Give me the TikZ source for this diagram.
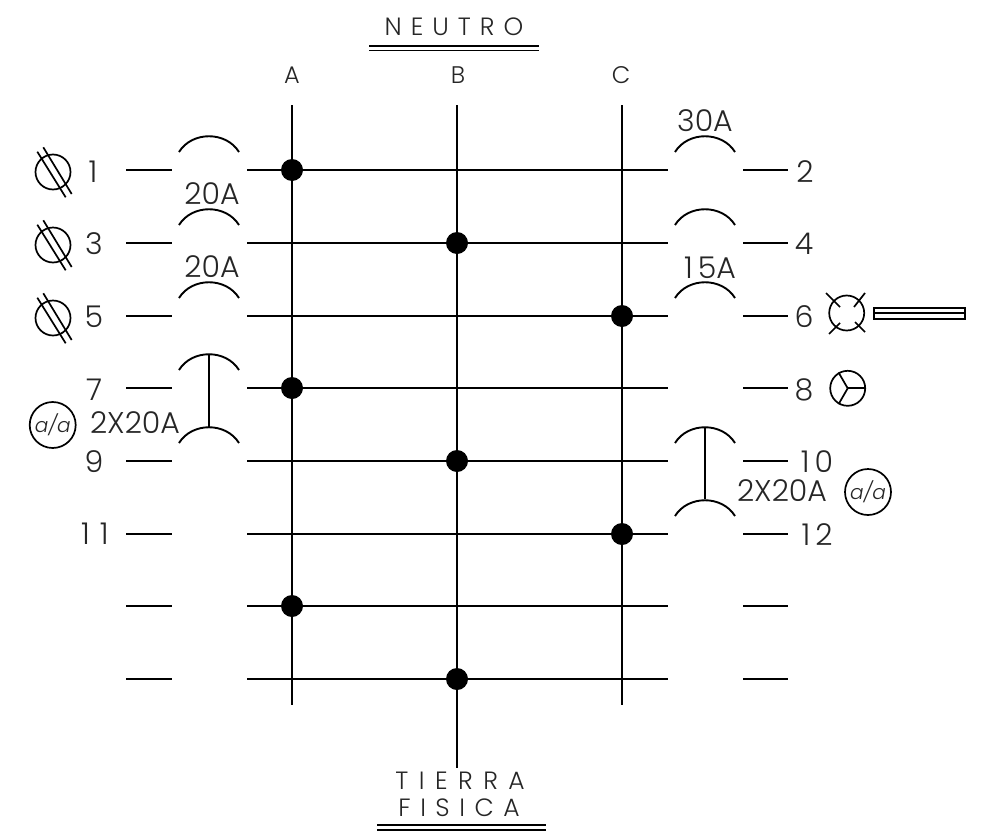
\documentclass[tikz,border=0pt]{standalone}
\usepackage{fontspec}
\setmainfont{Poppins}[UprightFont=* Light,ItalicFont=* Light Italic]
\newfontfamily\spaced{Poppins}[UprightFont=* Light,LetterSpace=36]
\newcommand{\gapA}{\kern9pt\relax}
\newcommand{\gapB}{\kern10.5pt\relax}
\newcommand{\gapC}{\kern9.5pt\relax}
\tikzset{
  wire/.style={line width=2.3pt,line cap=butt,black},
  thin wire/.style={line width=1.7pt,black},
  lab/.style={inner sep=0pt,outer sep=0pt,text=black!85,font=\fontsize{30}{30}\selectfont},
  small lab/.style={lab,font=\fontsize{24}{24}\selectfont},
  title lab/.style={inner sep=0pt,outer sep=0pt,text=black!85,font=\spaced\fontsize{25}{25}\selectfont},
  jdot/.style={circle,fill=black,inner sep=0pt,minimum size=22pt},
  sym/.style={circle,draw=black,line width=1.7pt,inner sep=0pt,minimum size=35pt},
  aa/.style={circle,draw=black,line width=1.7pt,inner sep=0pt,minimum size=46pt,text=black!85,font=\itshape\fontsize{20}{20}\selectfont},
}
\begin{document}
\begin{tikzpicture}[x=1pt,y=-1pt]
\useasboundingbox (0,0) rectangle (981,835);
% busbars
\coordinate (Atop) at (292,105); \coordinate (Abot) at (292,705);
\coordinate (Btop) at (457,105); \coordinate (Bbot) at (457,768);
\coordinate (Ctop) at (622,105); \coordinate (Cbot) at (622,705);
\draw[wire] (Atop) -- (Abot);
\draw[wire] (Btop) -- (Bbot);
\draw[wire] (Ctop) -- (Cbot);
% rows
\foreach \r/\y in {1/170,2/243,3/316,4/388,5/461,6/534,7/606,8/679}{
  \coordinate (LS\r) at (126,\y); \coordinate (LE\r) at (172,\y);
  \coordinate (MS\r) at (247,\y); \coordinate (ME\r) at (668,\y);
  \coordinate (RS\r) at (743,\y); \coordinate (RE\r) at (788,\y);
  \draw[wire] (LS\r) -- (LE\r);
  \draw[wire] (MS\r) -- (ME\r);
  \draw[wire] (RS\r) -- (RE\r);
}
% breakers
\foreach \y in {170,243,316,388,461}{
  \draw[thin wire,line width=1.9pt] (179,\y-18) .. controls (192,\y-39) and (226,\y-39) .. (239,\y-18);
}
\foreach \y in {170,243,316,461,534}{
  \draw[thin wire,line width=1.9pt] (675,\y-18) .. controls (688,\y-39) and (722,\y-39) .. (735,\y-18);
}
\coordinate (TL1) at (209,354); \coordinate (TL2) at (209,427);
\coordinate (TR1) at (705,427); \coordinate (TR2) at (705,499);
\draw[thin wire,line width=1.9pt] (TL1) -- (TL2);
\draw[thin wire,line width=1.9pt] (TR1) -- (TR2);
% junctions
\node[jdot] (d1) at (292,170) {};
\node[jdot] (d2) at (457,243) {};
\node[jdot] (d3) at (622,316) {};
\node[jdot] (d4) at (292,388) {};
\node[jdot] (d5) at (457,461) {};
\node[jdot] (d6) at (622,534) {};
\node[jdot] (d7) at (292,606) {};
\node[jdot] (d8) at (457,679) {};
% titles
\node[title lab] (neutro) at (454,27) {N\gapA E\gapA U\gapA T\gapA R\gapA O};
\draw[wire,line width=1.9pt] (369,46) -- (539,46);
\draw[wire,line width=1.9pt] (369,50.5) -- (539,50.5);
\node[title lab] (tierra) at (460,781) {T\gapB I\gapB E\gapB R\gapB R\gapB A};
\node[title lab] (fisica) at (459,808) {F\gapC I\gapC S\gapC I\gapC C\gapC A};
\draw[wire,line width=1.9pt] (377,825) -- (546,825);
\draw[wire,line width=1.9pt] (377,830) -- (546,830);
\node[small lab] (la) at (292,75) {A};
\node[small lab] (lb) at (458,75) {B};
\node[small lab] (lc) at (621,75) {C};
% left numbers
\node[lab] (n1) at (93,172) {1};
\node[lab] (n3) at (94,244) {3};
\node[lab] (n5) at (94,317) {5};
\node[lab] (n7) at (94,390) {7};
\node[lab] (n9) at (94,462) {9};
\node[lab] (n11) at (95,534) {1\,\,1};
% right numbers
\node[lab] (n2) at (805,172) {2};
\node[lab] (n4) at (804,244) {4};
\node[lab] (n6) at (804,317) {6};
\node[lab] (n8) at (804,390) {8};
\node[lab] (n10) at (817,462) {1\,0};
\node[lab] (n12) at (817,535) {1\,2};
% ratings
\node[lab] (a20a) at (212,194) {20A};
\node[lab] (a20b) at (212,267) {20A};
\node[lab] (a2x20l) at (135,423) {2X20A};
\node[lab] (a30) at (705,121) {30A};
\node[lab] (a15) at (710,268) {1\,5A};
\node[lab] (a2x20r) at (782,491) {2X20A};
% a/a
\node[aa] (aal) at (52.7,425) {a/a};
\node[aa] (aar) at (868,492) {a/a};
% outlet symbols
\foreach \n/\y in {a/170,b/243,c/316}{
  \node[sym] (s\n) at (53,\y+2) {};
  \draw[thin wire] (37.3,\y-18.3) -- (65.7,\y+27.3);
  \draw[thin wire] (43.3,\y-22.7) -- (71.7,\y+24);
}
% lamp
\node[sym] (lamp) at (846.7,313) {};
\draw[thin wire] (826,293) -- (840,307);
\draw[thin wire] (865,293) -- (854,307);
\draw[thin wire] (829,334) -- (840,323);
\draw[thin wire] (865,332) -- (855,322);
\draw[thin wire] (874.3,307.7) rectangle (964.7,318.7);
\draw[thin wire] (874.3,313.2) -- (964.7,313.2);
% three-way symbol
\node[sym] (yy) at (847.7,388.3) {};
\draw[thin wire] (yy.center) -- (yy.0);
\draw[thin wire] (yy.center) -- (yy.120);
\draw[thin wire] (yy.center) -- (yy.240);
\end{tikzpicture}
\end{document}
